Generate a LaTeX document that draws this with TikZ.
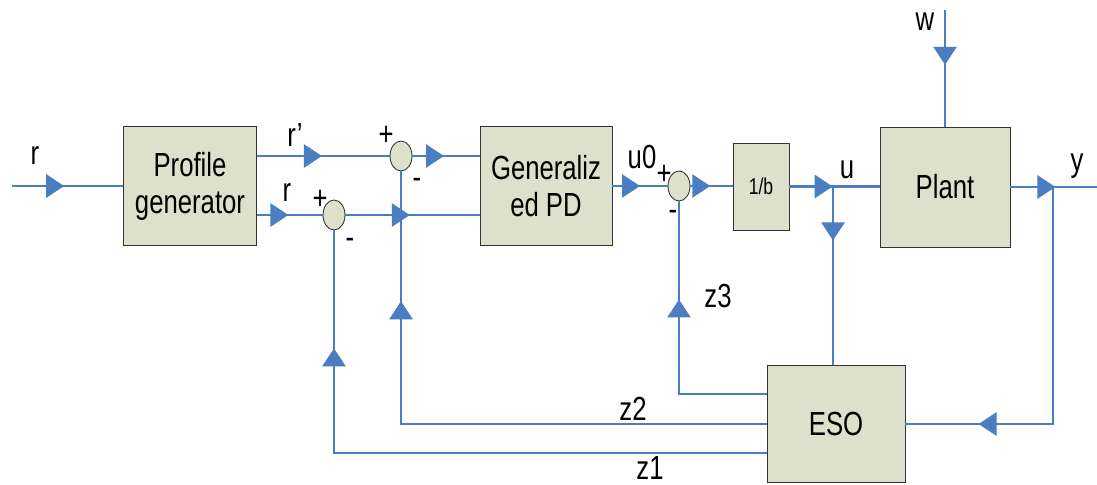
\documentclass[tikz,border=0pt]{standalone}
\usepackage{fontspec}
\setmainfont{Liberation Sans}[FakeStretch=0.77]
\usetikzlibrary{arrows.meta,decorations.markings,shapes.geometric}
\definecolor{sigblue}{RGB}{74,126,193}
\definecolor{boxfill}{RGB}{221,225,203}
\tikzset{
  arrowat/.style={postaction={decorate,decoration={markings,
      mark=at position #1 with {\arrow{Triangle[length=0.36cm,width=0.46cm]}}}}}
}
\begin{document}
\begin{tikzpicture}[x=0.02cm,y=-0.02cm]
  \tikzstyle{block}=[draw=black!80,line width=0.5pt,fill=boxfill,align=center,
                     font=\fontsize{19}{21}\selectfont]
  \tikzstyle{sum}=[ellipse,draw=black!80,line width=0.5pt,fill=boxfill,
                   minimum width=0.44cm,minimum height=0.6cm,inner sep=0pt]
  \tikzstyle{sig}=[draw=sigblue,line width=1.6pt]
  \tikzstyle{lbl}=[inner sep=0pt,font=\fontsize{19}{21}\selectfont]
  \useasboundingbox (0,0) rectangle (1097,484);
  % blocks
  \node[block,minimum width=2.66cm,minimum height=2.38cm] (pg) at (190,186) {Profile\\generator};
  \node[block,minimum width=2.64cm,minimum height=2.38cm] (pd) at (546,186) {Generaliz\\ed PD};
  \node[block,minimum width=1.12cm,minimum height=1.74cm,font=\fontsize{13}{15}\selectfont] (ib) at (761,186.5) {1/b};
  \node[block,minimum width=2.6cm,minimum height=2.4cm] (plant) at (945,187) {Plant};
  \node[block,minimum width=2.76cm,minimum height=2.34cm] (eso) at (836,424) {ESO};
  % summing points
  \node[sum] (s1) at (401,156) {};
  \node[sum] (s2) at (334,215) {};
  \node[sum] (s3) at (679,186) {};
  \coordinate (rin) at (12,186);
  \coordinate (win) at (945,10);
  \coordinate (yout) at (1097,187);
  \coordinate (uj) at (833,187);
  \coordinate (yj) at (1053,187);
  % forward path
  \draw[sig,arrowat=0.47] (rin) -- (pg.west);
  \draw[sig,arrowat=0.49] (pg.east |- s1) -- (s1.west);
  \draw[sig,arrowat=0.47] (s1.east) -- (s1.east -| pd.west);
  \draw[sig,arrowat=0.48] (pg.east |- s2) -- (s2.west);
  \draw[sig,arrowat=0.48] (s2.east) -- (s2.east -| pd.west);
  \draw[sig,arrowat=0.5] (pd.east |- s3) -- (s3.west);
  \draw[sig,arrowat=0.47] (s3.east) -- (s3.east -| ib.west);
  \draw[sig,arrowat=0.48] (ib.east) -- (ib.east -| plant.west);
  \draw[sig,arrowat=0.47] (win) -- (plant.north);
  \draw[sig,arrowat=0.52] (plant.east) -- (yout);
  % observer
  \draw[sig,arrowat=0.3] (uj) -- (uj |- eso.north);
  \draw[sig,arrowat=0.81] (yj) |- (eso.east);
  \draw[sig,arrowat=0.65] ([yshift=0.6cm]eso.west) -| (s3.south);
  \draw[sig,arrowat=0.79] (eso.west) -| (s1.south);
  \draw[sig,arrowat=0.82] ([yshift=-0.58cm]eso.west) -| (s2.south);
  % labels
  \node[lbl] (lr) at (35,156) {r};
  \node[lbl] (lrp) at (295,135) {r’};
  \node[lbl] (lr2) at (287,193) {r};
  \node[lbl] (p1) at (386,136) {+};
  \node[lbl] (m1) at (417,183) {-};
  \node[lbl] (p2) at (320,200) {+};
  \node[lbl] (m2) at (350,243) {-};
  \node[lbl] (lu0) at (642,157) {u0};
  \node[lbl] (p3) at (664,175) {+};
  \node[lbl] (m3) at (673,215) {-};
  \node[lbl] (lu) at (847,170) {u};
  \node[lbl] (lw) at (925,22) {w};
  \node[lbl] (ly) at (1077,166) {y};
  \node[lbl] (lz3) at (718,296) {z3};
  \node[lbl] (lz2) at (633,409) {z2};
  \node[lbl] (lz1) at (650,468) {z1};
\end{tikzpicture}
\end{document}
